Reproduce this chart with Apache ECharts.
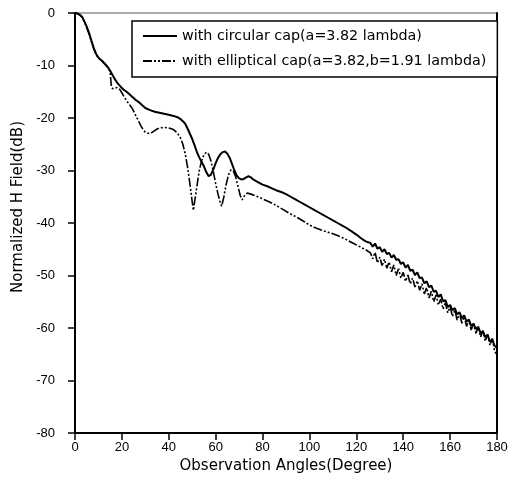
<!DOCTYPE html>
<html>
<head>
<meta charset="utf-8">
<script src="https://cdn.jsdelivr.net/npm/echarts@6/dist/echarts.min.js"></script>
<style>
html,body{margin:0;padding:0;background:#fff;}
#chart{width:525px;height:495px;}
</style>
</head>
<body>
<div id="chart"></div>
<script>
var seriesNames = ['with circular cap(a=3.82 lambda)', 'with elliptical cap(a=3.82,b=1.91 lambda)'];

var circAngles = [0,1,2,3,4,5,6,7,8,9,10,11,12,13,14,15,16,17,18,19,20,21,22,23,24,25,26,27,28,29,30,32,34,36,38,40,42,44,45,46,47,48,49,50,51,52,53,54,55,56,57,58,59,60,61,62,63,64,65,66,67,68,69,70,71,72,73,74,75,76,78,80,82,84,86,88,90,92,94,96,98,100,102,104,106,108,110,112,114,116,118,120,122,124,126,127,128,129,130,131,132,133,134,135,136,137,138,139,140,141,142,143,144,145,146,147,148,149,150,151,152,153,154,155,156,157,158,159,160,161,162,163,164,165,166,167,168,169,170,171,172,173,174,175,176,177,178,179,180];
var circValues = [0,-0.1,-0.3,-0.7,-1.6,-2.6,-3.8,-5.3,-6.7,-7.8,-8.5,-8.9,-9.3,-9.8,-10.3,-11.0,-11.8,-12.6,-13.3,-13.8,-14.3,-14.7,-15.0,-15.4,-15.8,-16.2,-16.6,-16.9,-17.3,-17.7,-18.1,-18.5,-18.8,-19.0,-19.2,-19.4,-19.6,-19.9,-20.2,-20.6,-21.1,-22.0,-23.0,-24.0,-25.2,-26.5,-27.5,-28.4,-29.2,-30.3,-31.1,-30.8,-29.8,-28.6,-27.6,-26.9,-26.5,-26.4,-26.8,-27.6,-28.8,-30.0,-31.0,-31.5,-31.7,-31.6,-31.3,-31.1,-31.3,-31.7,-32.2,-32.7,-33.0,-33.4,-33.8,-34.1,-34.5,-35.0,-35.5,-36.0,-36.5,-37.0,-37.5,-38.0,-38.5,-39.0,-39.5,-40.0,-40.5,-41.0,-41.6,-42.2,-42.9,-43.5,-43.8,-44.5,-43.9,-44.9,-44.6,-45.5,-45.0,-45.9,-45.7,-46.6,-46.1,-47.0,-46.9,-47.8,-47.5,-48.5,-48.0,-49.1,-48.9,-49.9,-49.4,-50.5,-50.4,-51.5,-51.1,-52.2,-51.9,-53.1,-52.9,-54.1,-53.6,-54.9,-54.7,-56.0,-55.6,-56.6,-56.2,-57.4,-57.0,-58.1,-57.6,-58.8,-58.4,-59.6,-59.2,-60.2,-59.8,-61.0,-60.6,-61.8,-61.3,-62.6,-62.2,-63.4,-63.8];

var ellAngles = [0,1,2,3,4,5,6,7,8,9,10,11,12,13,14,15,15.5,16,17,18,19,20,21,22,23,24,25,26,27,28,29,30,31,32,33,34,35,36,38,40,42,43,44,45,46,47,48,49,50,50.5,51,52,53,54,55,56,57,58,59,60,61,62,62.6,63.5,64.5,65.5,66.5,67.5,68.5,69.5,70.5,71.3,72.3,73.5,75,77,80,83,86,89,92,95,98,100,103,106,109,112,115,118,121,124,126,127,128,129,130,131,132,133,134,135,136,137,138,139,140,141,142,143,144,145,146,147,148,149,150,151,152,153,154,155,156,157,158,159,160,161,162,163,164,165,166,167,168,169,170,171,172,173,174,175,176,177,178,179,180];
var ellValues = [0,-0.1,-0.4,-0.8,-1.7,-2.8,-4.0,-5.4,-6.8,-7.9,-8.6,-9.0,-9.4,-9.9,-10.4,-11.2,-14.0,-14.4,-14.3,-14.2,-14.5,-15.2,-16.0,-16.7,-17.3,-17.9,-18.7,-19.6,-20.5,-21.4,-22.2,-22.7,-22.9,-22.9,-22.7,-22.4,-22.1,-21.9,-21.8,-21.9,-22.2,-22.6,-23.1,-23.8,-25.0,-26.8,-29.3,-32.5,-36.0,-37.6,-36.0,-33.0,-30.0,-28.2,-27.0,-26.5,-26.9,-28.2,-30.2,-32.5,-34.5,-36.2,-36.8,-35.0,-32.6,-30.8,-29.9,-30.0,-31.2,-33.0,-34.8,-35.6,-34.8,-34.3,-34.5,-34.8,-35.4,-36.0,-36.7,-37.5,-38.3,-39.0,-39.8,-40.4,-41.0,-41.5,-41.9,-42.4,-43.0,-43.7,-44.4,-45.1,-45.7,-46.8,-45.6,-47.6,-46.5,-48.1,-46.9,-48.6,-47.4,-49.3,-48.0,-50.0,-48.7,-50.5,-49.4,-51.1,-49.9,-51.6,-50.5,-52.2,-51.0,-52.8,-51.6,-53.5,-52.3,-54.3,-53.0,-55.0,-53.7,-55.6,-54.5,-56.4,-55.2,-57.1,-55.9,-57.8,-56.6,-58.5,-57.2,-59.1,-57.8,-59.7,-58.5,-60.4,-59.1,-61.0,-59.8,-61.7,-60.5,-62.5,-61.2,-63.3,-62.0,-64.5,-65.0];

var xTitle = 'Observation Angles(Degree)';
var yTitle = 'Normalized H Field(dB)';

function pairs(xs, ys) {
  var out = [];
  for (var i = 0; i < xs.length; i++) out.push([xs[i], ys[i]]);
  return out;
}

var chart = echarts.init(document.getElementById('chart'), null, {renderer: 'canvas'});
var tickFont = {color: '#000', fontSize: 13, fontFamily: 'Liberation Sans, Arial, sans-serif'};
chart.setOption({
  animation: false,
  backgroundColor: '#fff',
  grid: {left: 75, right: 28, top: 13, bottom: 62, show: true, borderColor: '#555', borderWidth: 1},
  legend: {
    orient: 'vertical',
    left: 132, top: 21,
    padding: [8, 11, 9, 10],
    itemGap: 11,
    itemWidth: 34, itemHeight: 14,
    borderColor: '#000', borderWidth: 1.5,
    backgroundColor: '#fff',
    itemStyle: {color: 'rgba(0,0,0,0)', borderColor: 'rgba(0,0,0,0)', borderWidth: 0},
    textStyle: {color: '#000', fontSize: 14.3, fontFamily: 'DejaVu Sans, sans-serif'},
    data: seriesNames
  },
  xAxis: [{
    type: 'value', min: 0, max: 180, interval: 20,
    name: xTitle, nameLocation: 'middle', nameGap: 25,
    nameTextStyle: {color: '#000', fontSize: 15, fontFamily: 'DejaVu Sans, sans-serif'},
    axisLine: {onZero: false, lineStyle: {color: '#000', width: 2}},
    axisTick: {show: true, length: 7, lineStyle: {color: '#000', width: 1.5}},
    axisLabel: Object.assign({margin: 8}, tickFont),
    splitLine: {show: false}
  }],
  yAxis: [{
    type: 'value', min: -80, max: 0, interval: 10,
    axisLine: {show: true, onZero: false, lineStyle: {color: '#000', width: 2}},
    axisTick: {show: true, length: 7, lineStyle: {color: '#000', width: 1.5}},
    axisLabel: Object.assign({margin: 20}, tickFont),
    splitLine: {show: false}
  }, {
    type: 'value', min: -80, max: 0, interval: 10, position: 'right',
    axisLine: {show: true, onZero: false, lineStyle: {color: '#000', width: 2}},
    axisTick: {show: false}, axisLabel: {show: false}, splitLine: {show: false}
  }],
  graphic: [{
    type: 'text', x: 18, y: 207, rotation: Math.PI / 2,
    style: {text: yTitle, fill: '#000', fontSize: 15, fontFamily: 'DejaVu Sans, sans-serif', align: 'center', verticalAlign: 'middle'}
  }],
  series: [{
    name: seriesNames[0], type: 'line', symbol: 'none', showSymbol: false,
    data: pairs(circAngles, circValues),
    lineStyle: {color: '#000', width: 2}, itemStyle: {color: '#000'}
  }, {
    name: seriesNames[1], type: 'line', symbol: 'none', showSymbol: false,
    data: pairs(ellAngles, ellValues),
    lineStyle: {color: '#000', width: 1.6, type: [9, 2, 2, 2, 2, 2]}, itemStyle: {color: '#000'}
  }]
});
</script>
</body>
</html>
